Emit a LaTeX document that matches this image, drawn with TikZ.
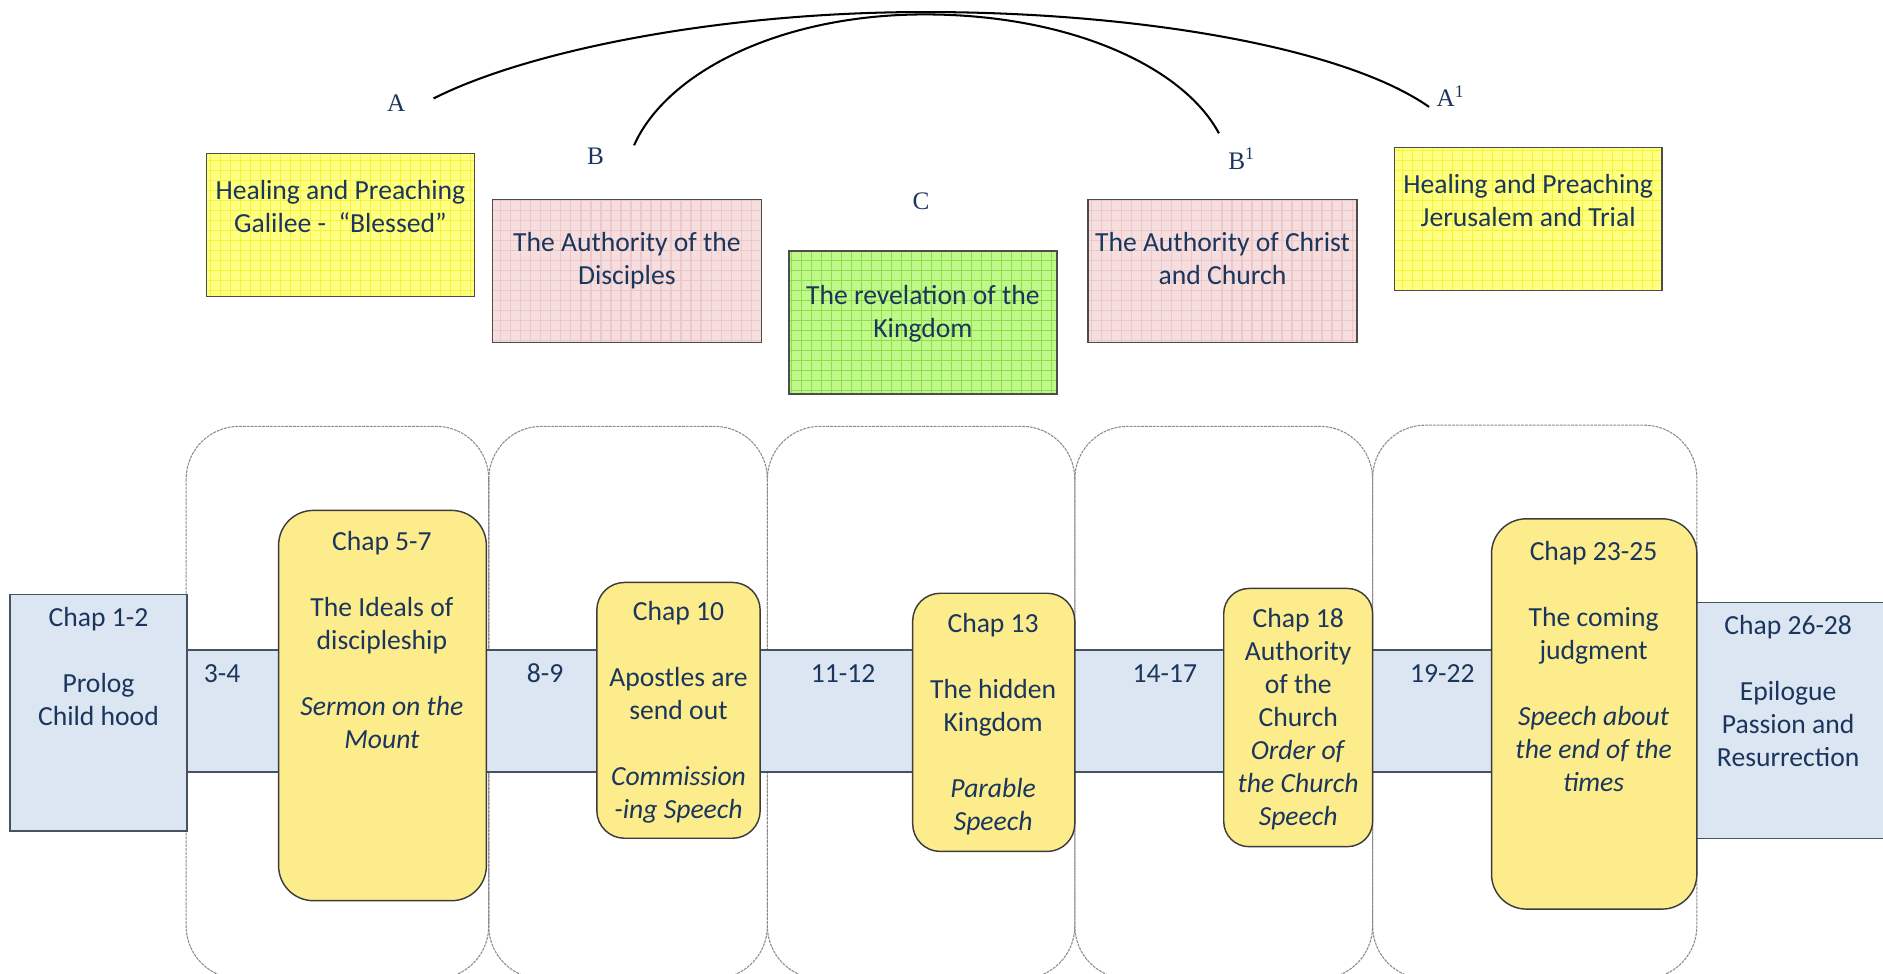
\documentclass[tikz,border=0pt]{standalone}
\usepackage{fontspec}
\setmainfont{Carlito}
\newfontfamily\letterfont{Liberation Serif}

\definecolor{navy}{HTML}{1B365D}
\definecolor{bandblue}{HTML}{DCE6F2}
\definecolor{bandedge}{HTML}{46525E}
\definecolor{chapyellow}{HTML}{FCEC8C}
\definecolor{chapedge}{HTML}{3C3C3C}
\definecolor{yelbase}{HTML}{FFFF82}
\definecolor{yelline}{HTML}{F4F43C}
\definecolor{pinkbase}{HTML}{F6DEDE}
\definecolor{pinkline}{HTML}{EDC8CA}
\definecolor{greenbase}{HTML}{C0F88A}
\definecolor{greenline}{HTML}{8AE048}
\definecolor{outlinegray}{HTML}{8C8C8C}

% textured theme box: corners, base colour, grid colour
\newcommand\texbox[6]{%
  \begin{scope}
    \clip (#1,#2) rectangle (#3,#4);
    \fill[#5] (#1,#2) rectangle (#3,#4);
    \draw[#6, line width=0.5pt, step=4.17pt] (#1,#4) grid (#3,#2);
  \end{scope}
  \draw[topedge] (#1,#2) rectangle (#3,#4);}

\begin{document}
\begin{tikzpicture}[x=0.5pt,y=-0.5pt,
  topedge/.style={draw=black!70, line width=0.6pt},
  txt/.style={font=\fontsize{11.5}{13.75}\selectfont, text=navy, align=center,
    inner sep=0pt, anchor=north, execute at begin node={\rule{0pt}{9pt}}},
  letter/.style={font=\letterfont\fontsize{10.5}{12}\selectfont, text=navy, inner sep=0pt},
  arcline/.style={draw=black, line width=0.85pt},
  section/.style={draw=outlinegray, line width=0.45pt, dash pattern=on 1.2pt off 0.4pt, rounded corners=22pt},
  chapbox/.style={fill=chapyellow, draw=chapedge, line width=0.6pt},
  endbox/.style={fill=bandblue, draw=bandedge, line width=0.8pt}]
\useasboundingbox (0,0) rectangle (1568,811);

% ---- arcs pairing the themes ----
\coordinate (aL) at (361,82);
\coordinate (aR) at (1190,89);
\coordinate (aTop) at (770,10);
\coordinate (bL) at (528,121);
\coordinate (bR) at (1015,111);
\coordinate (bTop) at (770,12);
\draw[arcline] (aL) .. controls (440,42) and (600,10) .. (aTop)
               .. controls (950,10) and (1120,40) .. (aR);
\draw[arcline] (bL) .. controls (555,60) and (650,12) .. (bTop)
               .. controls (890,12) and (985,55) .. (bR);

% ---- letter labels ----
\node[letter] (lA)  at (330,86)  {A};
\node[letter] (lB)  at (496,130) {B};
\node[letter] (lC)  at (767,168) {C};
\node[letter] (lB1) at (1034,132) {B\textsuperscript{1}};
\node[letter] (lA1) at (1208,80)  {A\textsuperscript{1}};

% ---- theme boxes ----
\texbox{172}{128}{395}{247}{yelbase}{yelline}
\texbox{410}{166}{634}{285}{pinkbase}{pinkline}
\texbox{657}{209}{880}{328}{greenbase}{greenline}
\texbox{906}{166}{1130}{285}{pinkbase}{pinkline}
\texbox{1161}{123}{1384}{242}{yelbase}{yelline}

\node[txt] (t1) at (283.5,150) {Healing and Preaching\\Galilee -~ “Blessed”};
\node[txt] (t2) at (522,193) {The Authority of the\\Disciples};
\node[txt] (t3) at (768.5,237) {The revelation of the\\Kingdom};
\node[txt] (t4) at (1018,193) {The Authority of Christ\\and Church};
\node[txt] (t5) at (1272.5,145) {Healing and Preaching\\Jerusalem and Trial};

% ---- section outlines ----
\draw[section] (155,355) rectangle (407,815);
\draw[section] (407,355) rectangle (639,815);
\draw[section] (639,355) rectangle (895,815);
\draw[section] (895,355) rectangle (1143,815);
\draw[section] (1143,354) rectangle (1413,815);

% ---- timeline band ----
\fill[bandblue] (155,541) rectangle (1413,643);
\draw[bandedge, line width=0.8pt] (155,541) -- (1413,541);
\draw[bandedge, line width=0.8pt] (155,643) -- (1413,643);

\draw[endbox] (8,495) rectangle (156,692);
\draw[endbox] (1413,502) -- (1575,502) (1413,502) -- (1413,698) -- (1575,698);
\fill[bandblue] (1413.5,502.4) rectangle (1575,697.6);

% ---- speech boxes ----
\draw[chapbox, rounded corners=14.5pt] (232,425) rectangle (405,750);
\draw[chapbox, rounded corners=11.5pt] (497,485) rectangle (633,698);
\draw[chapbox, rounded corners=11.5pt] (760,494) rectangle (895,709);
\draw[chapbox, rounded corners=10.5pt] (1019,490) rectangle (1143,705);
\draw[chapbox, rounded corners=14.5pt] (1242,432) rectangle (1413,757);

% ---- texts on the timeline ----
\node[txt] (c12) at (82,505) {Chap 1-2\\[13.75pt]Prolog\\Child hood};
\node[txt] (c57) at (318,442) {Chap 5-7\\[13.75pt]The Ideals of\\discipleship\\[13.75pt]\textit{Sermon on the}\\\textit{Mount}};
\node[txt] (c10) at (565,500) {Chap 10\\[13.75pt]Apostles are\\send out\\[13.75pt]\textit{Commission}\\\textit{-ing Speech}};
\node[txt] (c13) at (827,510) {Chap 13\\[13.75pt]The hidden\\Kingdom\\[13.75pt]\textit{Parable}\\\textit{Speech}};
\node[txt] (c18) at (1081,506) {Chap 18\\Authority\\of the\\Church\\\textit{Order of}\\\textit{the Church}\\\textit{Speech}};
\node[txt] (c2325) at (1327,450) {Chap 23-25\\[13.75pt]The coming\\judgment\\[13.75pt]\textit{Speech about}\\\textit{the end of the}\\\textit{times}};
\node[txt] (c2628) at (1489,512) {Chap 26-28\\[13.75pt]Epilogue\\Passion and\\Resurrection};

\node[txt] (r34)   at (185,550)  {3-4};
\node[txt] (r89)   at (454,550)  {8-9};
\node[txt] (r1112) at (702,550)  {11-12};
\node[txt] (r1417) at (970,550)  {14-17};
\node[txt] (r1922) at (1201,550) {19-22};
\end{tikzpicture}
\end{document}
